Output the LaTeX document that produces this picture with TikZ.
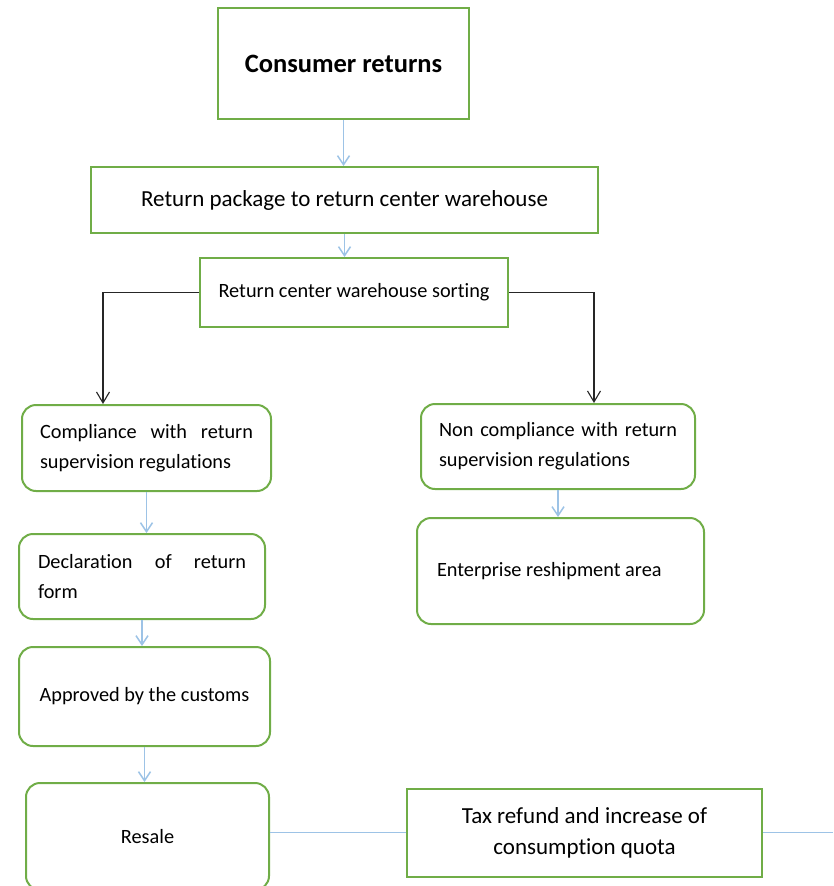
\documentclass[tikz,border=0pt]{standalone}
\usepackage{fontspec}
\setmainfont{Carlito}[Ligatures=NoCommon]
\usetikzlibrary{arrows.meta}
\definecolor{gr}{HTML}{70AD47}
\definecolor{bl}{HTML}{9DC3E6}
\hyphenpenalty=10000
\exhyphenpenalty=10000
\tolerance=10000
\begin{document}
\begin{tikzpicture}[x=1pt,y=-1pt,
  box/.style={draw=gr,line width=2pt,inner sep=0pt,font=\fontsize{20.3}{30}\selectfont},
  rbox/.style={box,rounded corners=14pt},
  barrow/.style={draw=bl,line width=1.5pt,-{Straight Barb[length=9pt,width=12pt]}},
  karrow/.style={draw=black!85,line width=1.1pt,-{Straight Barb[length=11pt,width=13pt]}},
  bline/.style={draw=bl,line width=1.5pt}]
\useasboundingbox (0,0) rectangle (833,886);
\node[box,minimum width=251pt,minimum height=111pt,font=\bfseries\fontsize{26.5}{30}\selectfont] (cr) at (343.5,63.5) {Consumer returns};
\node[box,minimum width=507pt,minimum height=66pt,font=\fontsize{23}{30}\selectfont] (pkg) at (344.5,200) {Return package to return center warehouse};
\node[box,minimum width=308pt,minimum height=69pt] (sort) at (354,292.5) {Return center warehouse sorting};
\node[rbox,minimum width=249pt,minimum height=86pt,text width=213pt,align=justify] (comp) at (146.5,448) {Compliance with return supervision regulations};
\node[rbox,minimum width=274pt,minimum height=85pt,text width=238pt,align=justify] (ncomp) at (558,446.5) {Non compliance with return supervision regulations};
\node[rbox,minimum width=246pt,minimum height=85pt,text width=208pt,align=justify] (decl) at (142,576.5) {Declaration of return form};
\node[rbox,minimum width=251pt,minimum height=99pt] (app) at (144.5,696.5) {Approved by the customs};
\node[rbox,minimum width=287pt,minimum height=106pt,text width=247pt,align=flush left] (ent) at (560.5,571) {Enterprise reshipment area};
\node[rbox,minimum width=243pt,minimum height=107pt] (resale) at (147.5,836.5) {Resale};
\node[box,minimum width=355pt,minimum height=88pt,align=center,font=\fontsize{23}{31}\selectfont] (tax) at (584.5,832.5) {Tax refund and increase of\\consumption quota};
\coordinate (edge) at (833,832.5);
\draw[barrow] (cr.south) -- (cr.south |- pkg.north);
\draw[barrow] (pkg.south) -- (pkg.south |- sort.north);
\draw[karrow] (sort.west) -| ([xshift=-43.5pt]comp.north);
\draw[karrow] (sort.east) -| ([xshift=36pt]ncomp.north);
\draw[barrow] (comp.south) -- (comp.south |- decl.north);
\draw[barrow] (decl.south) -- (decl.south |- app.north);
\draw[barrow] (app.south) -- (app.south |- resale.north);
\draw[barrow] (ncomp.south) -- (ncomp.south |- ent.north);
\draw[bline] (tax.west) -- (tax.west -| resale.east);
\draw[bline] (tax.east) -- (edge);
\end{tikzpicture}
\end{document}
